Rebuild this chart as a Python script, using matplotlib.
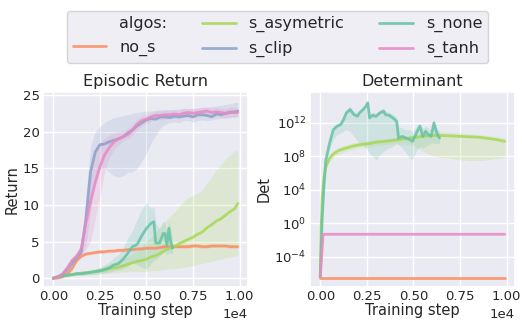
import numpy as np
import matplotlib
matplotlib.use("Agg")
import matplotlib.pyplot as plt
import seaborn as sns
from matplotlib.lines import Line2D

sns.set_theme(style="darkgrid")
plt.rcParams['font.family'] = ['DejaVu Sans']

# ---------------- data ----------------
algos = ["no_s", "s_asymetric", "s_clip", "s_none", "s_tanh"]
colors = {"no_s": "#fc8d62", "s_asymetric": "#a6d854", "s_clip": "#8da0cb",
          "s_none": "#66c2a5", "s_tanh": "#e78ac3"}

# Episodic return (x in training steps)
steps_ret = list(range(0, 10000, 250)) + [9900]

ret_clip = [0, 0.2, 0.5, 1.2, 2.0, 2.8, 3.6, 8.0, 14.5, 17.2, 18.2, 18.3, 18.6, 18.8, 19.0, 19.3,
            19.8, 20.2, 20.8, 21.2, 21.6, 21.8, 21.7, 22.0, 22.0, 21.9, 22.1, 22.0, 22.1, 22.2,
            22.0, 22.3, 22.3, 22.2, 22.0, 22.4, 22.3, 22.5, 22.6, 22.7, 22.8]
ret_clip_lo = [0, 0.1, 0.3, 0.8, 1.5, 2.2, 3.0, 4.5, 9.0, 13.0, 15.0, 15.0, 14.5, 14.0, 13.8, 14.0,
               14.5, 14.5, 15.0, 16.0, 17.0, 18.5, 19.5, 20.5, 21.0, 21.2, 21.3, 21.2, 21.5, 21.5,
               21.3, 21.5, 21.6, 21.5, 21.6, 21.7, 21.8, 21.8, 21.9, 22.0, 22.0]
ret_clip_hi = [0, 0.3, 0.8, 1.6, 2.5, 3.4, 4.3, 11.0, 18.0, 20.0, 20.7, 21.2, 21.6, 21.9, 22.0, 22.2,
               22.3, 22.5, 22.6, 22.7, 22.8, 22.8, 22.9, 23.0, 23.0, 23.0, 23.0, 23.1, 23.2, 23.1,
               23.2, 23.2, 23.3, 23.3, 23.4, 23.5, 23.6, 23.7, 23.8, 24.0, 24.0]

ret_tanh = [0, 0.2, 0.6, 1.4, 2.4, 3.0, 4.0, 7.5, 10.5, 13.0, 15.2, 16.8, 17.8, 18.6, 19.0, 19.3,
            19.6, 20.2, 21.0, 21.5, 21.7, 22.0, 22.2, 22.2, 22.3, 22.3, 22.4, 22.3, 22.5, 22.6,
            22.5, 22.6, 22.7, 22.8, 22.6, 22.7, 22.6, 22.5, 22.7, 22.6, 22.6]
ret_tanh_lo = [0, 0.1, 0.4, 1.1, 2.0, 2.6, 3.2, 4.0, 5.0, 8.0, 11.0, 14.5, 16.5, 17.5, 18.2, 18.8,
               19.0, 19.5, 20.3, 20.8, 21.1, 21.4, 21.6, 21.6, 21.7, 21.8, 21.8, 21.8, 22.0, 22.0,
               21.9, 22.0, 22.1, 22.2, 22.0, 22.1, 22.0, 21.9, 22.0, 22.0, 22.0]
ret_tanh_hi = [0, 0.3, 0.8, 1.7, 2.8, 3.4, 4.6, 10.0, 15.0, 17.5, 18.5, 19.0, 19.5, 19.8, 20.0, 20.1,
               20.4, 21.0, 21.7, 22.1, 22.3, 22.6, 22.8, 22.8, 22.9, 22.9, 23.0, 22.9, 23.1, 23.2,
               23.1, 23.2, 23.3, 23.4, 23.2, 23.3, 23.2, 23.1, 23.4, 23.3, 23.3]

ret_nos = [0, 0.05, 0.2, 0.6, 1.3, 2.4, 3.0, 3.3, 3.4, 3.5, 3.6, 3.6, 3.7, 3.7, 3.8, 3.8,
           3.9, 3.9, 4.0, 4.0, 4.1, 4.1, 4.1, 4.2, 4.3, 4.3, 4.3, 4.3, 4.3, 4.3,
           4.4, 4.4, 4.3, 4.3, 4.4, 4.4, 4.4, 4.4, 4.3, 4.3, 4.3]

ret_asym = [0, 0.15, 0.3, 0.4, 0.5, 0.6, 0.7, 0.75, 0.8, 0.9, 1.0, 1.1, 1.3, 1.4, 1.5, 1.7,
            1.9, 2.1, 2.3, 2.4, 2.6, 2.9, 3.1, 3.4, 3.8, 4.1, 4.3, 4.7, 5.0, 5.3,
            5.6, 6.0, 6.3, 6.9, 7.3, 7.8, 8.1, 8.6, 9.1, 9.5, 10.2]
ret_asym_lo = [0, 0.05, 0.1, 0.2, 0.3, 0.4, 0.5, 0.55, 0.5, 0.6, 0.65, 0.7, 0.75, 0.8, 0.8, 0.85,
               0.9, 0.9, 0.95, 0.9, 0.9, 1.0, 1.0, 1.1, 1.2, 1.3, 1.3, 1.4, 1.5, 1.6,
               1.7, 1.9, 2.0, 2.2, 2.3, 2.5, 2.6, 2.8, 2.9, 3.0, 3.2]
ret_asym_hi = [0, 0.3, 0.5, 0.6, 0.7, 0.8, 0.9, 1.0, 1.1, 1.2, 1.4, 1.6, 1.9, 2.1, 2.3, 2.6,
               3.0, 3.4, 3.9, 4.4, 5.0, 5.6, 6.3, 7.0, 7.8, 8.4, 9.0, 9.8, 10.5, 11.0,
               11.3, 11.6, 12.0, 13.0, 13.8, 14.8, 15.5, 16.3, 16.8, 17.5, 17.2]

steps_none = [0, 250, 500, 750, 1000, 1250, 1500, 1750, 2000, 2250, 2500, 2750, 3000, 3250,
              3500, 3750, 4000, 4250, 4500, 4750, 5000, 5250, 5400, 5500, 5700, 5900, 6000,
              6100, 6200, 6300, 6400]
ret_none = [0, 0.2, 0.3, 0.4, 0.5, 0.6, 0.6, 0.7, 0.8, 0.9, 1.0, 1.2, 1.4, 1.8,
            2.0, 2.6, 3.4, 4.3, 4.6, 5.8, 6.8, 7.5, 7.7, 4.8, 4.8, 6.1, 6.1,
            4.5, 6.8, 5.0, 4.1]
ret_none_lo = [0, 0.1, 0.2, 0.3, 0.3, 0.4, 0.4, 0.4, 0.5, 0.5, 0.6, 0.7, 0.8, 1.0,
               1.1, 1.3, 1.6, 2.2, 1.8, 1.5, 1.2, 2.0, 2.5, 2.5, 3.0, 3.5, 3.6,
               3.2, 3.5, 3.4, 3.3]
ret_none_hi = [0, 0.3, 0.4, 0.5, 0.7, 0.8, 0.9, 1.0, 1.2, 1.3, 1.5, 1.8, 2.2, 2.8,
               3.2, 4.2, 5.5, 6.5, 8.0, 9.5, 10.3, 9.5, 9.8, 7.5, 6.8, 7.8, 7.5,
               6.0, 8.0, 6.8, 5.5]

# Determinant (log10 values)
steps_det = [0, 150] + list(range(250, 10000, 250)) + [9900]
det_nos = [-6.5] * len(steps_det)
det_tanh = [-6.4] + [-1.3] * (len(steps_det) - 1)

steps_det_asym = [0, 50, 100, 200, 300, 500, 700, 900, 1100, 1400, 1700, 2000, 2500, 3000,
                  3500, 4000, 4500, 5000, 5500, 6000, 6500, 7000, 7500, 8000, 8500, 9000,
                  9500, 9900]
det_asym = [-6.4, -0.4, 3.0, 5.5, 6.8, 7.8, 8.3, 8.6, 8.8, 9.0, 9.2, 9.35, 9.5, 9.7,
            9.8, 9.95, 10.1, 10.25, 10.4, 10.5, 10.5, 10.45, 10.4, 10.35, 10.3, 10.15,
            10.0, 9.8]
det_asym_lo = [-6.4, -0.7, 2.6, 5.1, 6.4, 7.4, 7.9, 8.2, 8.4, 8.6, 8.8, 9.0, 9.1, 9.3,
               9.4, 9.5, 9.5, 9.3, 8.6, 8.1, 7.9, 7.8, 7.6, 7.5, 7.5, 7.6, 7.8, 7.9]
det_asym_hi = [-6.4, -0.1, 3.4, 5.9, 7.2, 8.2, 8.7, 9.0, 9.2, 9.4, 9.6, 9.7, 9.8, 10.0,
               10.1, 10.25, 10.4, 10.6, 10.8, 10.9, 10.9, 10.85, 10.8, 10.7, 10.6, 10.5,
               10.35, 10.2]

steps_det_none = [0, 100, 200, 300, 500, 700, 900, 1100, 1250, 1400, 1600, 1800, 2000, 2100,
                  2300, 2450, 2550, 2650, 2800, 3000, 3200, 3400, 3500, 3700, 3900, 4100,
                  4200, 4400, 4600, 4800, 4950, 5100, 5200, 5350, 5500, 5650, 5800, 5950,
                  6100, 6250, 6400]
det_none = [-6.4, 0.5, 4.5, 7.6, 9.6, 11.2, 11.6, 11.8, 12.4, 13.2, 13.6, 13.0, 12.8, 13.2,
            13.6, 14.0, 14.4, 12.6, 12.9, 12.8, 13.2, 13.4, 13.0, 12.9, 12.6, 12.2,
            10.2, 10.4, 10.2, 10.0, 9.8, 10.5, 11.0, 11.6, 10.4, 11.0, 10.6, 10.4,
            12.0, 10.8, 10.2]
det_none_lo = [-6.4, 0.2, 4.0, 7.0, 8.8, 10.0, 10.6, 10.8, 11.0, 11.2, 11.0, 10.4, 9.8, 9.6,
               9.4, 9.0, 8.6, 8.4, 8.0, 7.6, 8.2, 8.6, 8.8, 9.0, 9.2, 9.6,
               9.4, 9.0, 8.4, 7.8, 7.6, 8.4, 8.8, 9.2, 9.0, 9.2, 9.4, 9.6,
               9.6, 9.5, 9.6]
det_none_hi = [-6.4, 0.8, 5.0, 8.0, 10.0, 11.6, 12.0, 12.2, 12.8, 13.6, 14.0, 13.4, 13.2, 13.6,
               14.0, 14.4, 14.8, 13.0, 13.3, 13.2, 13.6, 13.8, 13.4, 13.3, 13.0, 12.6,
               11.6, 11.4, 11.2, 11.2, 11.0, 11.4, 11.8, 12.0, 11.4, 11.6, 11.4, 11.2,
               12.4, 11.4, 11.0]

# ---------------- plot ----------------
fig = plt.figure(figsize=(5.22, 3.22), dpi=100)
ax1 = fig.add_axes([0.0824, 0.1087, 0.3927, 0.6056])
ax2 = fig.add_axes([0.5939, 0.1087, 0.3927, 0.6056])

LW = 2.0
LA = 0.85
BA = 0.2


def draw(ax, x, y, lo, hi, name, log=False):
    x = np.asarray(x, float)
    y = np.asarray(y, float)
    if log:
        y = 10.0 ** y
        lo = None if lo is None else 10.0 ** np.asarray(lo, float)
        hi = None if hi is None else 10.0 ** np.asarray(hi, float)
    if lo is not None:
        ax.fill_between(x, lo, hi, color=colors[name], alpha=BA, lw=0)
    ax.plot(x, y, color=colors[name], lw=LW, alpha=LA)


draw(ax1, steps_ret, ret_nos, np.array(ret_nos) - 0.2, np.array(ret_nos) + 0.2, "no_s")
draw(ax1, steps_ret, ret_asym, ret_asym_lo, ret_asym_hi, "s_asymetric")
draw(ax1, steps_ret, ret_clip, ret_clip_lo, ret_clip_hi, "s_clip")
draw(ax1, steps_none, ret_none, ret_none_lo, ret_none_hi, "s_none")
draw(ax1, steps_ret, ret_tanh, ret_tanh_lo, ret_tanh_hi, "s_tanh")

draw(ax2, steps_det, det_nos, None, None, "no_s", log=True)
draw(ax2, steps_det_asym, det_asym, det_asym_lo, det_asym_hi, "s_asymetric", log=True)
draw(ax2, steps_det_none, det_none, det_none_lo, det_none_hi, "s_none", log=True)
draw(ax2, steps_det, det_tanh, None, None, "s_tanh", log=True)

ax2.set_yscale("log")
ax2.set_yticks([1e-4, 1e0, 1e4, 1e8, 1e12])
ax2.yaxis.set_minor_locator(matplotlib.ticker.NullLocator())
ax2.set_ylim(10 ** -7.6, 10 ** 15.7)

ax1.set_ylim(-1.2, 25.4)
ax1.set_yticks([0, 5, 10, 15, 20, 25])

for ax in (ax1, ax2):
    ax.set_xlim(-550, 10450)
    ax.set_xticks([0, 2500, 5000, 7500, 10000])
    ax.ticklabel_format(axis="x", style="sci", scilimits=(0, 0))
    ax.tick_params(labelsize=9.5, pad=2.5, length=0)
    ax.xaxis.get_offset_text().set_fontsize(9.5)
    ax.set_xlabel("Training step", fontsize=10.5, labelpad=0)

ax1.set_title("Episodic Return", fontsize=11.5, pad=4)
ax2.set_title("Determinant", fontsize=11.5, pad=4)
ax1.set_ylabel("Return", fontsize=10.5, labelpad=2)
ax2.set_ylabel("Det", fontsize=10.5, labelpad=2)

handles = [Line2D([], [], color="none"),
           Line2D([], [], color=colors["no_s"], lw=LW, alpha=LA),
           Line2D([], [], color=colors["s_asymetric"], lw=LW, alpha=LA),
           Line2D([], [], color=colors["s_clip"], lw=LW, alpha=LA),
           Line2D([], [], color=colors["s_none"], lw=LW, alpha=LA),
           Line2D([], [], color=colors["s_tanh"], lw=LW, alpha=LA)]
labels = ["algos:", "no_s", "s_asymetric", "s_clip", "s_none", "s_tanh"]
fig.legend(handles, labels, ncol=3, loc="upper center", bbox_to_anchor=(0.5316, 0.992),
           fontsize=11.5, handlelength=2.1, columnspacing=2.2, borderpad=0.35,
           labelspacing=0.55)

fig.savefig("out.png", dpi=100)
